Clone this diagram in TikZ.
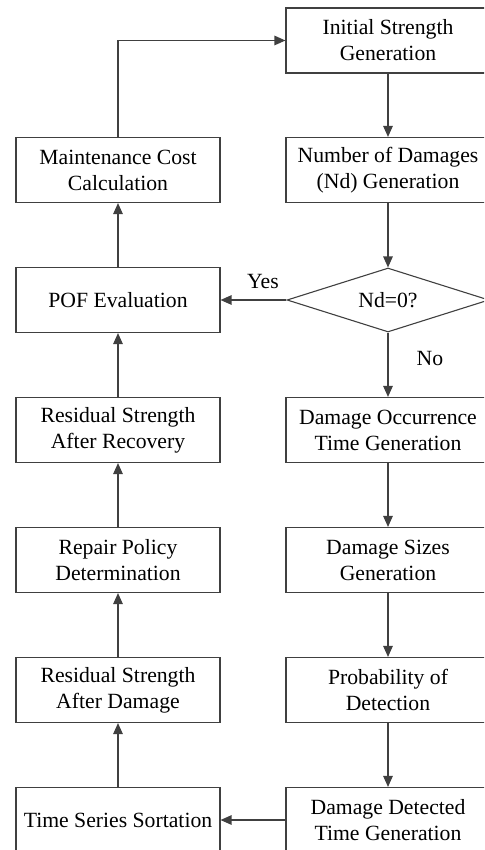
\documentclass[tikz,border=0pt]{standalone}
\usepackage{fontspec}
\setmainfont{Liberation Serif}
\usetikzlibrary{shapes.geometric,arrows.meta}
\begin{document}
\begin{tikzpicture}[x=1pt,y=-1pt,
  every node/.style={font=\fontsize{21.7}{26}\selectfont, text=black},
  proc/.style={draw=linegray, line width=1.1pt, minimum width=204pt, minimum height=65pt,
    inner sep=0pt, align=center},
  decide/.style={draw=linegray, line width=1.1pt, diamond, aspect=3.15,
    minimum width=202pt, minimum height=64pt, inner sep=0pt},
  flow/.style={draw=linegray, line width=1.2pt, -{Triangle[length=11pt,width=9.5pt]}},
  lbl/.style={inner sep=0pt}]
\definecolor{linegray}{HTML}{404040}
\useasboundingbox (0,0) rectangle (484,850);
\clip (0,0) rectangle (484,850);

% right column
\node[proc] (init)  at (388,40.5) {Initial Strength\\Generation};
\node[proc] (nd)    at (388,170)  {Number of Damages\\(Nd) Generation};
\node[decide] (chk) at (388,300)  {Nd=0?};
\node[proc] (occ)   at (388,430)  {Damage Occurrence\\Time Generation};
\node[proc] (size)  at (388,560)  {Damage Sizes\\Generation};
\node[proc] (pod)   at (388,690)  {Probability of\\Detection};
\node[proc] (det)   at (388,820)  {Damage Detected\\Time Generation};

% left column
\node[proc] (cost)  at (118,170)  {Maintenance Cost\\Calculation};
\node[proc] (pof)   at (118,300)  {POF Evaluation};
\node[proc] (rrec)  at (118,430)  {Residual Strength\\After Recovery};
\node[proc] (rep)   at (118,560)  {Repair Policy\\Determination};
\node[proc] (rdam)  at (118,690)  {Residual Strength\\After Damage};
\node[proc] (sort)  at (118,820)  {Time Series Sortation};

% flow down the right column
\draw[flow] (init) -- (nd);
\draw[flow] (nd) -- (chk);
\draw[flow] (chk) -- (occ);
\draw[flow] (occ) -- (size);
\draw[flow] (size) -- (pod);
\draw[flow] (pod) -- (det);

% branches
\draw[flow] (chk) -- (pof);
\draw[flow] (det) -- (sort);

% flow up the left column
\draw[flow] (sort) -- (rdam);
\draw[flow] (rdam) -- (rep);
\draw[flow] (rep) -- (rrec);
\draw[flow] (rrec) -- (pof);
\draw[flow] (pof) -- (cost);
\draw[flow] (cost.north) |- (init.west);

% branch labels
\node[lbl] at (263,282) {Yes};
\node[lbl] at (430,358) {No};
\end{tikzpicture}
\end{document}
